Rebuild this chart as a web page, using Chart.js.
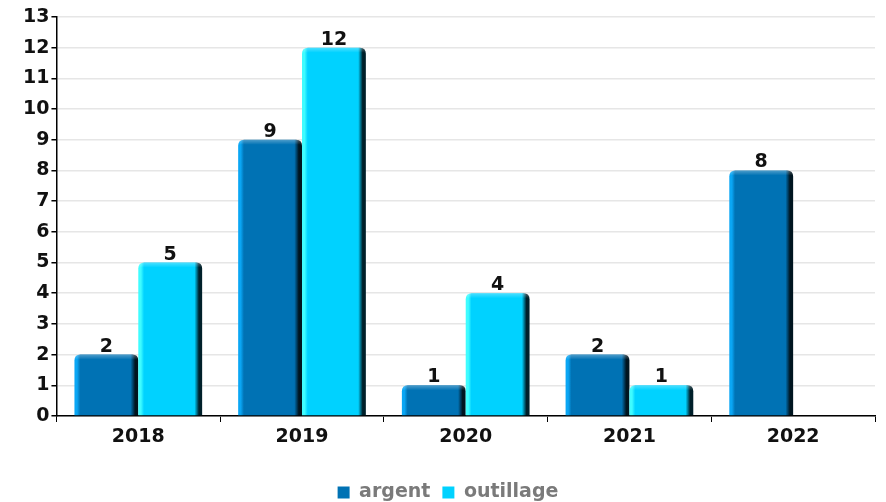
<!DOCTYPE html>
<html>
<head>
<meta charset="utf-8">
<script src="https://cdn.jsdelivr.net/npm/chart.js@4/dist/chart.umd.min.js"></script>
<style>
  html, body { margin: 0; padding: 0; background: #fff; }
  #wrap { width: 886px; height: 502px; }
</style>
</head>
<body>
<div id="wrap"><canvas id="chart" width="886" height="502"></canvas></div>
<script>
// Categories and series
const years = ['2018', '2019', '2020', '2021', '2022'];
const argent = [2, 9, 1, 2, 8];
const outillage = [5, 12, 4, 1, null];
const yTicks = [0, 1, 2, 3, 4, 5, 6, 7, 8, 9, 10, 11, 12, 13];

// base, left highlight, right shadow
const palette = {
  argent: { base: '#0072b4', light: '#0aa6f4', dark: '#001520' },
  outillage: { base: '#00d2ff', light: '#3ffcff', dark: '#00202a' }
};

const FONT = "'DejaVu Sans', sans-serif";

// Shaded bars: horizontal gradient with light left edge and dark right edge
const bevelBars = {
  id: 'bevelBars',
  afterDatasetsDraw(chart) {
    const ctx = chart.ctx;
    chart.data.datasets.forEach((ds, i) => {
      const colors = palette[ds.key];
      chart.getDatasetMeta(i).data.forEach((bar, j) => {
        if (ds.data[j] == null) return;
        const p = bar.getProps(['x', 'y', 'base', 'width'], true);
        const left = p.x - p.width / 2, right = p.x + p.width / 2;
        const top = p.y, bottom = p.base;
        const r = Math.min(6, (bottom - top) / 2);
        const g = ctx.createLinearGradient(left, 0, right, 0);
        g.addColorStop(0, colors.light);
        g.addColorStop(0.04, colors.light);
        g.addColorStop(0.09, colors.base);
        g.addColorStop(0.88, colors.base);
        g.addColorStop(0.95, colors.dark);
        g.addColorStop(1, colors.dark);
        ctx.save();
        ctx.beginPath();
        ctx.moveTo(left, bottom);
        ctx.lineTo(left, top + r);
        ctx.quadraticCurveTo(left, top, left + r, top);
        ctx.lineTo(right - r, top);
        ctx.quadraticCurveTo(right, top, right, top + r);
        ctx.lineTo(right, bottom);
        ctx.closePath();
        ctx.fillStyle = g;
        ctx.fill();
        // thin highlight along the top
        ctx.clip();
        const tg = ctx.createLinearGradient(0, top, 0, top + 5);
        tg.addColorStop(0, 'rgba(255,255,255,0.3)');
        tg.addColorStop(1, 'rgba(255,255,255,0)');
        ctx.fillStyle = tg;
        ctx.fillRect(left, top, p.width, 5);
        ctx.restore();

        // value on top of the bar
        ctx.save();
        ctx.fillStyle = '#111';
        ctx.font = 'bold 19px ' + FONT;
        ctx.textAlign = 'center';
        ctx.textBaseline = 'alphabetic';
        ctx.fillText(String(ds.data[j]), p.x, top - 3);
        ctx.restore();
      });
    });
  }
};

new Chart(document.getElementById('chart'), {
  type: 'bar',
  data: {
    labels: years,
    datasets: [
      { key: 'argent', label: 'argent', data: argent, backgroundColor: 'rgba(0,0,0,0)', legendColor: palette.argent.base },
      { key: 'outillage', label: 'outillage', data: outillage, backgroundColor: 'rgba(0,0,0,0)', legendColor: palette.outillage.base }
    ]
  },
  options: {
    responsive: false,
    animation: false,
    devicePixelRatio: 1,
    layout: { padding: { left: 21, right: 11, top: 17, bottom: -10 } },
    datasets: { bar: { barPercentage: 1, categoryPercentage: 0.78 } },
    scales: {
      x: {
        offset: true,
        grid: { display: true, drawOnChartArea: false, offset: true, tickLength: 6, tickColor: '#000', lineWidth: 1 },
        border: { color: '#000', width: 1.5 },
        ticks: { color: '#111', font: { family: FONT, size: 19, weight: 'bold' }, padding: 4 },
        afterFit(scale) { scale.height = 55; }
      },
      y: {
        min: 0,
        max: 13,
        afterBuildTicks(scale) { scale.ticks = yTicks.map(v => ({ value: v })); },
        grid: { color: '#e6e6e6', lineWidth: 1.5, tickLength: 5, tickColor: '#000' },
        border: { color: '#000', width: 1.5 },
        ticks: { color: '#111', font: { family: FONT, size: 19, weight: 'bold' }, padding: 2 }
      }
    },
    plugins: {
      tooltip: { enabled: false },
      legend: {
        position: 'bottom',
        labels: {
          color: '#7a7a7a',
          font: { family: FONT, size: 19, weight: 'bold' },
          boxWidth: 12,
          boxHeight: 12,
          padding: 12,
          generateLabels(chart) {
            return chart.data.datasets.map((ds, i) => ({
              text: ds.label,
              fillStyle: ds.legendColor,
              strokeStyle: ds.legendColor,
              lineWidth: 0,
              hidden: false,
              datasetIndex: i,
              fontColor: '#7a7a7a'
            }));
          }
        }
      }
    }
  },
  plugins: [bevelBars]
});
</script>
</body>
</html>
